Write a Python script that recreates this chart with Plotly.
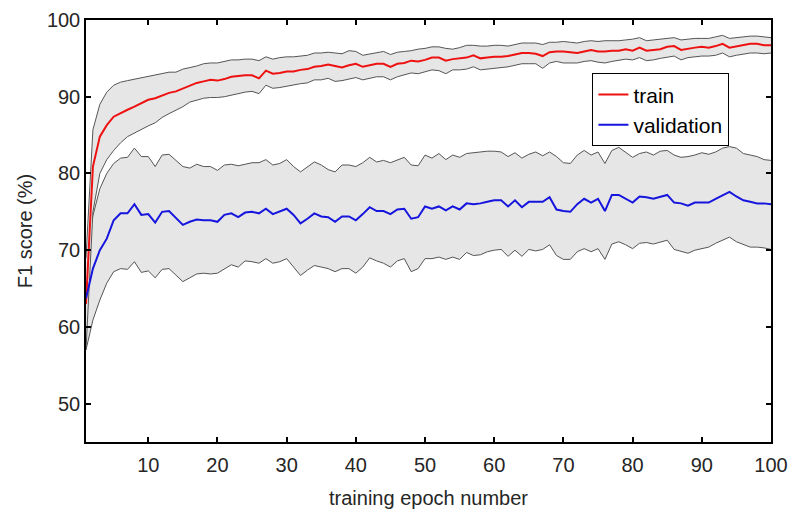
import plotly.graph_objects as go

epochs = list(range(1, 101))

train_mean = [63.0, 80.9, 84.8, 86.3, 87.4, 87.9, 88.3, 88.7, 89.1, 89.6,
              89.8, 90.2, 90.5, 90.7, 91.1, 91.5, 91.8, 92.0, 92.2, 92.1,
              92.3, 92.6, 92.7, 92.8, 92.8, 92.4, 93.4, 93.0, 93.1, 93.3,
              93.3, 93.5, 93.6, 93.9, 94.0, 94.2, 94.0, 93.8, 94.1, 94.3,
              93.9, 94.1, 94.3, 94.3, 93.9, 94.3, 94.4, 94.7, 94.6, 94.8,
              95.1, 95.1, 94.7, 94.9, 95.0, 95.1, 95.4, 95.0, 95.1, 95.2,
              95.2, 95.3, 95.5, 95.7, 95.7, 95.6, 95.3, 95.8, 95.9, 95.9,
              95.8, 95.7, 95.9, 96.1, 95.9, 95.9, 96.0, 96.0, 96.2, 96.0,
              96.4, 96.0, 96.1, 96.2, 96.5, 96.6, 96.1, 96.3, 96.4, 96.5,
              96.4, 96.6, 96.9, 96.4, 96.6, 96.7, 96.9, 96.9, 96.7, 96.7]

train_upper = [69.0, 85.7, 89.0, 90.6, 91.5, 91.9, 92.1, 92.3, 92.5, 92.6,
               92.8, 93.0, 93.2, 93.2, 93.6, 93.8, 94.0, 94.3, 94.4, 94.4,
               94.6, 94.8, 94.8, 94.9, 94.9, 94.7, 95.2, 94.9, 95.1, 95.2,
               95.2, 95.3, 95.4, 95.7, 95.7, 95.8, 95.7, 95.6, 96.0, 95.9,
               95.4, 95.6, 95.8, 95.9, 95.5, 95.8, 95.9, 96.0, 96.2, 96.3,
               96.5, 96.5, 96.3, 96.2, 96.4, 96.7, 96.7, 96.6, 96.6, 96.7,
               96.7, 96.6, 96.8, 97.0, 97.0, 97.0, 96.8, 97.1, 97.1, 97.2,
               97.1, 97.0, 97.2, 97.3, 97.2, 97.3, 97.3, 97.3, 97.4, 97.5,
               97.7, 97.3, 97.4, 97.5, 97.6, 97.7, 97.4, 97.5, 97.6, 97.6,
               97.6, 97.8, 98.0, 97.6, 97.7, 97.8, 97.9, 97.9, 97.8, 97.7]

train_lower = [57.0, 75.0, 80.0, 81.8, 83.0, 84.0, 84.8, 85.3, 85.8, 86.2,
               86.6, 87.3, 87.8, 88.2, 88.7, 89.3, 89.6, 89.8, 89.9, 89.9,
               90.0, 90.2, 90.4, 90.6, 90.7, 90.4, 91.5, 91.1, 91.2, 91.4,
               91.5, 91.7, 91.8, 92.2, 92.2, 92.4, 92.0, 92.1, 92.3, 92.5,
               92.2, 92.4, 92.6, 92.6, 92.2, 92.6, 92.8, 93.1, 93.0, 93.2,
               93.5, 93.4, 93.0, 93.5, 93.5, 93.6, 93.9, 93.5, 93.6, 93.7,
               93.8, 93.9, 94.1, 94.3, 94.3, 94.3, 93.7, 94.4, 94.6, 94.4,
               94.4, 94.4, 94.6, 94.7, 94.5, 94.4, 94.6, 94.8, 94.9, 94.8,
               95.1, 94.7, 94.8, 95.0, 95.2, 95.3, 94.8, 95.1, 95.2, 95.3,
               95.3, 95.4, 95.7, 95.2, 95.4, 95.6, 95.7, 95.7, 95.6, 95.7]

val_mean = [63.7, 67.6, 70.0, 71.5, 73.9, 74.8, 74.8, 76.0, 74.6, 74.7,
            73.6, 75.0, 75.1, 74.2, 73.3, 73.7, 74.0, 73.9, 73.9, 73.7,
            74.6, 74.8, 74.3, 74.9, 75.0, 74.8, 75.4, 74.7, 75.0, 75.4,
            74.6, 73.5, 74.1, 74.8, 74.4, 74.3, 73.7, 74.4, 74.4, 73.9,
            74.7, 75.6, 75.1, 75.1, 74.7, 75.3, 75.4, 74.1, 74.3, 75.7,
            75.4, 75.7, 75.2, 75.7, 75.3, 76.1, 76.0, 76.1, 76.3, 76.5,
            76.5, 75.7, 76.5, 75.6, 76.3, 76.3, 76.3, 76.9, 75.3, 75.1,
            75.0, 76.0, 76.7, 76.2, 76.7, 75.1, 77.2, 77.2, 76.7, 76.2,
            77.0, 76.9, 76.7, 77.0, 77.2, 76.2, 76.1, 75.8, 76.2, 76.2,
            76.2, 76.7, 77.2, 77.6, 77.0, 76.5, 76.3, 76.1, 76.1, 76.0]

val_upper = [70.0, 74.5, 78.0, 80.0, 81.3, 82.0, 82.1, 83.3, 82.2, 82.2,
             80.9, 82.4, 82.5, 81.7, 80.9, 80.7, 81.2, 80.9, 80.9, 80.4,
             81.1, 81.2, 81.0, 81.2, 81.4, 81.4, 81.8, 81.1, 81.3, 81.8,
             80.9, 80.2, 80.9, 81.5, 81.1, 80.5, 80.2, 81.1, 81.1, 80.9,
             81.4, 82.1, 81.5, 81.7, 81.4, 81.7, 82.1, 81.1, 81.0, 82.4,
             82.0, 82.6, 81.8, 82.4, 82.1, 82.6, 82.7, 82.8, 82.9, 82.9,
             82.8, 82.2, 82.7, 82.0, 82.5, 82.8, 82.3, 82.8, 82.2, 81.4,
             81.3, 82.4, 83.0, 82.4, 82.8, 81.3, 83.0, 83.4, 82.8, 82.1,
             82.6, 82.8, 82.4, 82.9, 83.0, 82.4, 82.1, 82.2, 82.4, 82.7,
             82.5, 82.8, 83.3, 83.5, 83.3, 82.6, 82.4, 82.2, 81.8, 81.7]

val_lower = [57.0, 60.9, 63.5, 65.7, 67.2, 67.6, 67.5, 68.5, 67.1, 67.3,
             66.4, 67.5, 67.6, 66.7, 65.9, 66.4, 66.9, 67.0, 66.9, 67.0,
             67.6, 68.1, 67.8, 68.6, 68.5, 68.3, 68.9, 68.3, 68.5, 68.9,
             67.8, 66.7, 67.4, 68.0, 67.8, 67.6, 67.2, 67.6, 67.6, 67.0,
             67.8, 69.0, 68.6, 68.3, 67.8, 68.6, 68.9, 67.2, 67.6, 68.9,
             68.9, 69.1, 68.8, 69.1, 68.8, 69.7, 69.3, 69.4, 69.8, 70.0,
             70.1, 69.2, 70.0, 69.2, 70.1, 69.9, 70.1, 70.7, 69.3, 68.8,
             68.8, 69.8, 70.2, 69.8, 70.2, 68.8, 70.8, 71.1, 70.7, 70.2,
             70.9, 71.0, 70.8, 71.1, 71.3, 70.1, 69.9, 69.6, 70.0, 70.2,
             70.4, 70.9, 71.3, 71.7, 71.1, 70.7, 70.4, 70.4, 70.3, 70.1]

x_ticks = [10, 20, 30, 40, 50, 60, 70, 80, 90, 100]
y_ticks = [50, 60, 70, 80, 90, 100]

FONT = "Liberation Sans, Arial, sans-serif"
BAND = "#e6e6e6"
EDGE = "#555555"

fig = go.Figure()

for upper, lower in [(val_upper, val_lower), (train_upper, train_lower)]:
    fig.add_trace(go.Scatter(x=epochs, y=upper, mode="lines",
                             line=dict(color=EDGE, width=1), showlegend=False,
                             hoverinfo="skip"))
    fig.add_trace(go.Scatter(x=epochs, y=lower, mode="lines",
                             line=dict(color=EDGE, width=1), fill="tonexty",
                             fillcolor=BAND, showlegend=False, hoverinfo="skip"))

fig.add_trace(go.Scatter(x=epochs, y=train_mean, mode="lines", name="train",
                         line=dict(color="#ee1111", width=2)))
fig.add_trace(go.Scatter(x=epochs, y=val_mean, mode="lines", name="validation",
                         line=dict(color="#1515dd", width=2)))

axis_common = dict(showline=True, linecolor="black", linewidth=1.5, mirror="allticks",
                   ticks="inside", ticklen=5, tickwidth=1.5, tickcolor="black",
                   showgrid=False, zeroline=False, automargin=False,
                   tickfont=dict(family=FONT, size=20, color="#262626"),
                   title_font=dict(family=FONT, size=20, color="#262626"))

fig.update_xaxes(range=[1, 100], tickvals=x_ticks, ticktext=[str(v) for v in x_ticks],
                 title_text="training epoch number", title_standoff=16,
                 ticklabelstandoff=4, **axis_common)
fig.update_yaxes(range=[45, 100], tickvals=y_ticks, ticktext=[str(v) for v in y_ticks],
                 title_text="F1 score (%)", title_standoff=9, **axis_common)

# page body has a default 8px margin, so the figure is sized to end at the window edge
fig.update_layout(
    width=792, height=513,
    margin=dict(l=78, r=29, t=12, b=79),
    plot_bgcolor="white", paper_bgcolor="white",
    font=dict(family=FONT, size=20, color="#262626"),
    legend=dict(x=0.739, y=0.874, xanchor="left", yanchor="top",
                bordercolor="black", borderwidth=1.2, bgcolor="white",
                font=dict(family=FONT, size=21, color="black"),
                traceorder="normal", tracegroupgap=0, itemwidth=30),
    showlegend=True,
)

fig.write_html("out.html")
